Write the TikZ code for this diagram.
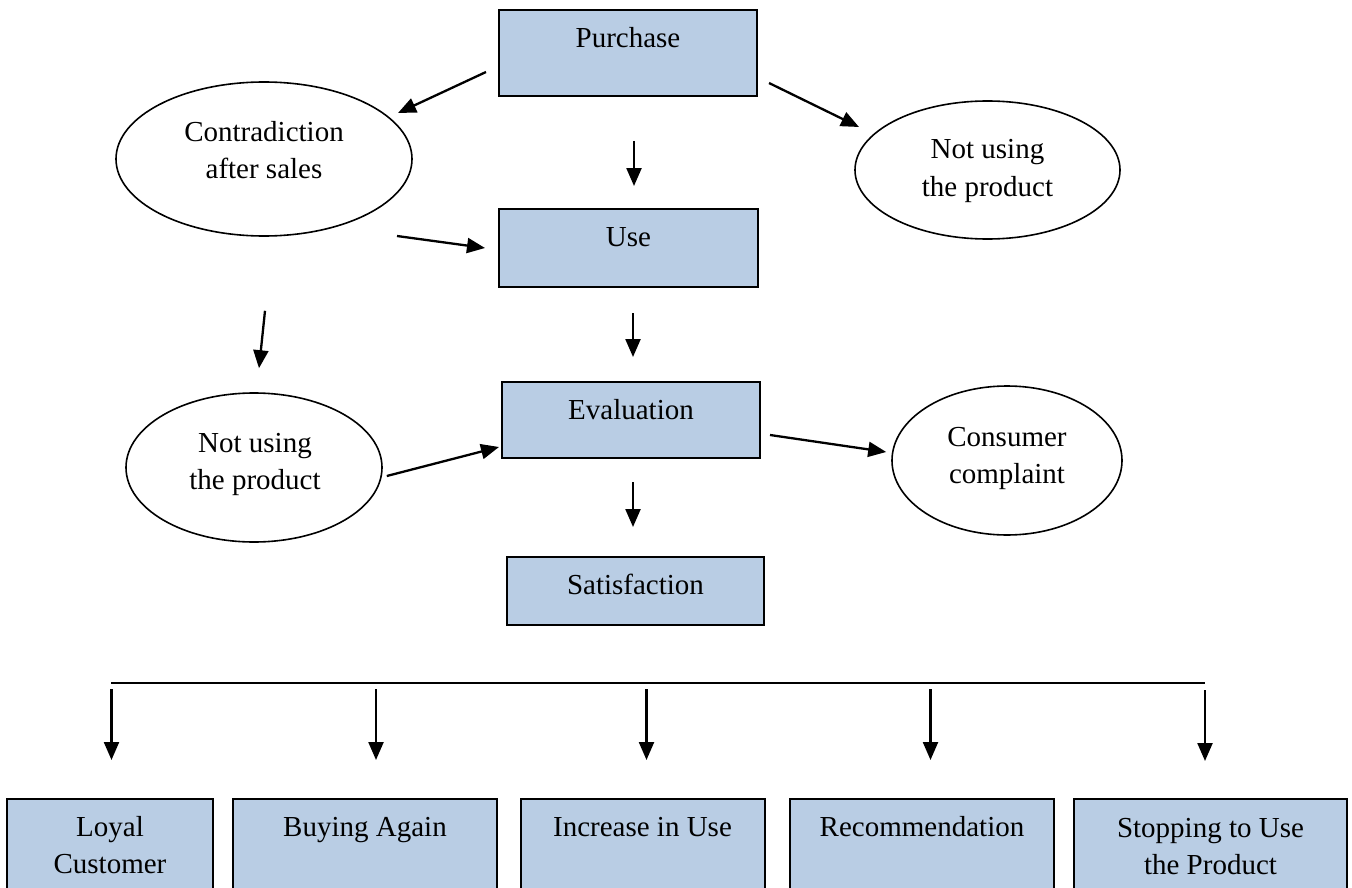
\documentclass[tikz,border=0pt]{standalone}
\usepackage{fontspec}
\setmainfont{Liberation Serif}
\usetikzlibrary{arrows.meta,shapes.geometric,calc}
\definecolor{boxblue}{RGB}{185,205,228}
\begin{document}
\begin{tikzpicture}[x=1pt,y=-1pt,
  box/.style={draw=black, line width=2pt, fill=boxblue, rectangle, inner sep=0pt},
  oval/.style={draw=black, line width=1.6pt, ellipse, inner sep=0pt},
  txt/.style={inner sep=0pt, align=center, font=\fontsize{29}{37}\selectfont, anchor=base},
  arr/.style={line width=2.3pt, -{Triangle[length=18pt,width=15pt]}},
  bus/.style={line width=2pt}]
\useasboundingbox (0,0) rectangle (1352,888);

% main chain of boxes
\node[box, minimum width=258, minimum height=86] (purchase) at (628,53) {};
\node[box, minimum width=259, minimum height=78] (use) at (628.5,248) {};
\node[box, minimum width=258, minimum height=76] (eval) at (631,420) {};
\node[box, minimum width=257, minimum height=68] (satis) at (635.5,591) {};

% labels sit on their baseline (last line for two-line labels)
\node[txt] (purchaseT) at ([shift={(0,38.5)}]purchase.north) {Purchase};
\node[txt] (useT) at ([shift={(0,38)}]use.north) {Use};
\node[txt] (evalT) at ([shift={(0,38.5)}]eval.north) {Evaluation};
\node[txt] (satisT) at ([shift={(0,38)}]satis.north) {Satisfaction};

% side ellipses
\node[oval, minimum width=296, minimum height=154] (contra) at (264,159) {};
\node[oval, minimum width=265, minimum height=138] (notR) at (987.5,170) {};
\node[oval, minimum width=256, minimum height=149] (notL) at (254,467.5) {};
\node[oval, minimum width=230, minimum height=149] (cons) at (1007,460.5) {};

\node[txt] (contraT) at (264,178.5) {Contradiction\\after sales};
\node[txt] (notRT) at (987.5,196) {Not using\\the product};
\node[txt] (notLT) at (255,489) {Not using\\the product};
\node[txt] (consT) at (1007,483.5) {Consumer\\complaint};

% outcome boxes
\node[box, minimum width=206, minimum height=100] (loyal) at (110,849) {};
\node[box, minimum width=264, minimum height=100] (again) at (365,849) {};
\node[box, minimum width=244, minimum height=100] (incr) at (642.5,849) {};
\node[box, minimum width=264, minimum height=100] (recom) at (922,849) {};
\node[box, minimum width=273, minimum height=100] (stop) at (1210.5,849) {};

\node[txt] (loyalT) at ([shift={(0,75)}]loyal.north) {Loyal\\Customer};
\node[txt] (againT) at ([shift={(0,38)}]again.north) {Buying Again};
\node[txt] (incrT) at ([shift={(0,38)}]incr.north) {Increase in Use};
\node[txt] (recomT) at ([shift={(0,38)}]recom.north) {Recommendation};
\node[txt] (stopT) at ([shift={(0,76)}]stop.north) {Stopping to Use\\the Product};

% connectors
\draw[arr] ([shift={(-12,19)}]purchase.west) -- ([shift={(134,-46)}]contra.center);
\draw[arr] ([shift={(11,30)}]purchase.east) -- ([shift={(-128.5,-43)}]notR.center);
\draw[arr] ([shift={(6,44)}]purchase.south) -- ([shift={(5.5,-22)}]use.north);
\draw[arr] ([shift={(133,77)}]contra.center) -- ([shift={(-13,0)}]use.west);
\draw[arr] ([shift={(1,74)}]contra.south) -- ([shift={(5,-24)}]notL.north);
\draw[arr] ([shift={(4.5,25)}]use.south) -- ([shift={(2,-24)}]eval.north);
\draw[arr] ([shift={(4,8.5)}]notL.east) -- ([shift={(-2,27)}]eval.west);
\draw[arr] ([shift={(9,15)}]eval.east) -- ([shift={(-5,-8.5)}]cons.west);
\draw[arr] ([shift={(2,23)}]eval.south) -- ([shift={(-2.5,-29)}]satis.north);

% distribution line to the outcomes
\coordinate (busL) at (111,683);
\coordinate (busR) at (1205,683);
\draw[bus] (busL) -- (busR);
\draw[arr] ([shift={(1.5,-109)}]loyal.north) -- ([shift={(1.5,-38)}]loyal.north);
\draw[arr] ([shift={(11,-109)}]again.north) -- ([shift={(11,-38)}]again.north);
\draw[arr] ([shift={(4,-109)}]incr.north) -- ([shift={(4,-38)}]incr.north);
\draw[arr] ([shift={(8.5,-109)}]recom.north) -- ([shift={(8.5,-38)}]recom.north);
\draw[arr] ([shift={(-5.5,-108)}]stop.north) -- ([shift={(-5.5,-37)}]stop.north);
\end{tikzpicture}
\end{document}
